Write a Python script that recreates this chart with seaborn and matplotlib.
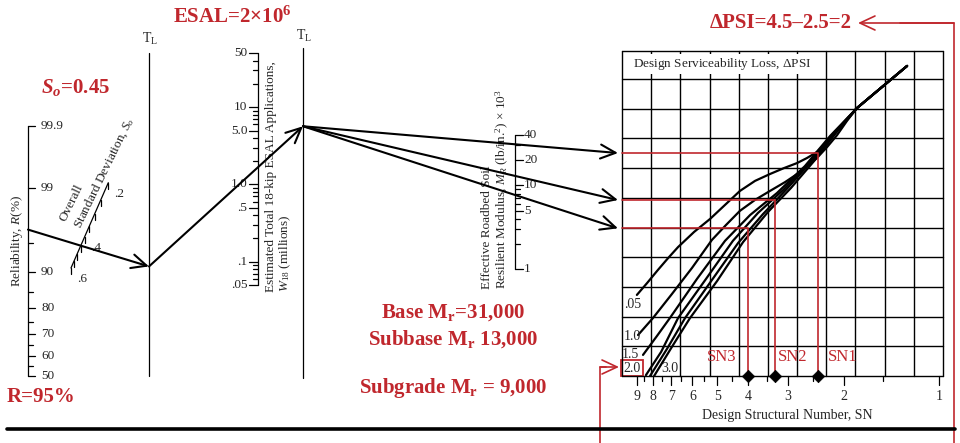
import math
from statistics import NormalDist

import matplotlib
matplotlib.use('Agg')
import matplotlib.pyplot as plt
import numpy as np
import pandas as pd
import seaborn as sns

rel_ticks = [50, 55, 60, 65, 70, 75, 80, 85, 90, 95, 99, 99.9]
rel_labels = [50, 60, 70, 80, 90, 99, 99.9]

so_ticks = [0.2, 0.25, 0.3, 0.35, 0.4, 0.45, 0.5, 0.55, 0.6]
so_label_vals = [0.2, 0.4, 0.6]
so_labels = ['.2', '.4', '.6']

esal_ticks = [0.05, 0.06, 0.07, 0.08, 0.09,
              0.1, 0.2, 0.3, 0.4, 0.5, 0.6, 0.7, 0.8, 0.9,
              1, 2, 3, 4, 5, 6, 7, 8, 9,
              10, 20, 30, 40, 50]
esal_label_vals = [50, 10, 5, 1, 0.5, 0.1, 0.05]
esal_labels = ['50', '10', '5.0', '1.0', '.5', '.1', '.05']

mr_ticks = [1, 2, 3, 4, 5, 6, 7, 8, 9, 10, 20, 30, 40]
mr_labels = [40, 20, 10, 5, 1]

sn_major = [9, 8, 7, 6, 5, 4, 3, 2, 1]
sn_minor = [8.5, 7.5, 6.5, 5.5, 4.5, 3.5, 2.5, 1.5]

# design serviceability loss curves, in chart grid units (column, row)
psi_curves = {
    '.05': ([0.51, 0.86, 1.23, 1.58, 1.92, 2.47, 3.02, 3.53, 4.04, 4.56, 5.07, 5.55,
             6.00, 6.34, 6.68, 6.92, 7.13, 7.61, 8.05, 8.91, 9.77],
            [2.73, 3.13, 3.57, 3.97, 4.34, 4.85, 5.29, 5.76, 6.23, 6.57, 6.80, 7.00,
             7.17, 7.34, 7.54, 7.78, 8.01, 8.55, 9.02, 9.73, 10.44]),
    '1.0': ([0.55, 1.06, 1.71, 2.40, 3.08, 3.56, 4.04, 4.56, 5.07, 5.59, 6.00, 6.34,
             6.68, 7.03, 7.37, 7.71, 8.05, 8.91, 9.77],
            [1.38, 1.95, 2.76, 3.64, 4.58, 5.08, 5.56, 5.93, 6.23, 6.53, 6.80, 7.07,
             7.34, 7.71, 8.11, 8.59, 9.02, 9.73, 10.44]),
    '1.5': ([0.72, 1.20, 1.64, 2.57, 3.53, 4.39, 5.31, 6.27, 7.13, 8.05, 8.91, 9.77],
            [0.71, 1.35, 1.95, 3.27, 4.55, 5.42, 6.16, 7.07, 8.08, 9.02, 9.73, 10.44]),
    '2.0': ([0.82, 1.34, 1.92, 2.88, 3.80, 4.66, 5.52, 6.41, 7.20, 8.05, 8.91, 9.77],
            [0.03, 0.81, 1.95, 3.27, 4.55, 5.49, 6.26, 7.17, 8.11, 9.02, 9.73, 10.44]),
    '2.5': ([0.96, 1.54, 2.16, 3.08, 3.98, 4.83, 5.65, 6.51, 7.27, 8.05, 8.91, 9.77],
            [0.00, 0.91, 1.95, 3.23, 4.48, 5.45, 6.30, 7.24, 8.15, 9.02, 9.73, 10.44]),
    '3.0': ([1.10, 1.71, 2.33, 3.26, 4.15, 5.00, 5.79, 6.61, 7.33, 8.05, 8.91, 9.77],
            [0.00, 0.98, 1.95, 3.20, 4.51, 5.52, 6.33, 7.27, 8.18, 9.02, 9.73, 10.44]),
}

# where the hand-drawn arrows cross each scale
r_read = 96.5
so_read = 0.45
esal_read = 1.65
mr_read = [31, 13, 7.7]        # base, subbase, subgrade
sn_read = [2.4, 3.3, 4.0]      # SN1, SN2, SN3
sn_names = ['SN1', 'SN2', 'SN3']

# ---------------- layout of the nomograph (canvas pixels) ----------------
RED = '#c0272d'
R_X, R_BOT, R_K = 28, 376, 80.8
SO_TOP, SO_BOT = (108.3, 182.7), (71.0, 268.0)
TL1_X, TL2_X = 149, 303
E_X, E_TOP, E_K = 257.5, 53.3, 77.2
M_X, M_TOP, M_K = 515, 135, 83.8
CH_L, CH_TOP, CH_HEAD, CH_BOT = 622, 51, 79, 376
COL_W, ROW_H, N_COL, N_ROW = 29.18, 29.7, 11, 10
SN_X1, SN_K = 939, 317


def rel_y(r):
    return R_BOT - R_K * NormalDist().inv_cdf(r / 100)


def so_pt(s):
    t = math.log(s / 0.2) / math.log(3)
    return (SO_TOP[0] + t * (SO_BOT[0] - SO_TOP[0]),
            SO_TOP[1] + t * (SO_BOT[1] - SO_TOP[1]))


def esal_y(e):
    return E_TOP + (math.log10(50) - math.log10(e)) * E_K


def mr_y(m):
    return M_TOP + (math.log10(40) - math.log10(m)) * M_K


def sn_x(s):
    return SN_X1 - SN_K * math.log10(s)


def col_x(c):
    return CH_L + c * COL_W


def row_y(r):
    return CH_BOT - r * ROW_H


def y_on_line(p, q, x):
    return p[1] + (x - p[0]) * (q[1] - p[1]) / (q[0] - p[0])


sns.set_style('white')
plt.rcParams['font.family'] = ['Liberation Serif', 'DejaVu Serif']
plt.rcParams['mathtext.fontset'] = 'custom'
plt.rcParams['mathtext.rm'] = 'Liberation Serif'
plt.rcParams['mathtext.it'] = 'Liberation Serif:italic'
plt.rcParams['mathtext.bf'] = 'Liberation Serif:bold'
plt.rcParams['mathtext.bfit'] = 'Liberation Serif:bold:italic'

fig = plt.figure(figsize=(9.6, 4.43), dpi=100)
ax = fig.add_axes([0, 0, 1, 1])

thin = dict(color='black', lw=0.9)
arrow_k = dict(arrowstyle='->,head_length=0.9,head_width=0.42', color='black',
               lw=1.5, shrinkA=0, shrinkB=0, mutation_scale=12)
arrow_r = dict(arrowstyle='->,head_length=0.9,head_width=0.42', color=RED,
               lw=1.2, shrinkA=0, shrinkB=0, mutation_scale=12)

# ---- design chart curves (seaborn) ----
rows = []
for psi, (cols, rws) in psi_curves.items():
    for c, r in zip(cols, rws):
        rows.append({'psi': psi, 'x': col_x(c), 'y': row_y(r)})
curves = pd.DataFrame(rows)
sns.lineplot(data=curves, x='x', y='y', hue='psi', units='psi', estimator=None, sort=False,
             palette={p: 'black' for p in psi_curves}, legend=False, lw=1.6, ax=ax)

# ---- reliability scale ----
ax.plot([R_X, R_X], [rel_y(99.9), rel_y(50)], **thin)
for r in rel_ticks:
    ln = 7 if r in rel_labels else 5
    ax.plot([R_X, R_X + ln], [rel_y(r)] * 2, **thin)
for r in rel_labels:
    ax.text(R_X + 13, rel_y(r), f'{r:g}', fontsize=9.5, va='center', ha='left')
ax.text(17, 241, r'Reliability, $R$(%)', rotation=90, fontsize=9.5, ha='center', va='center')

# ---- overall standard deviation scale ----
ax.plot([so_pt(0.2)[0], so_pt(0.6)[0]], [so_pt(0.2)[1], so_pt(0.6)[1]], **thin)
for s in so_ticks:
    px, py = so_pt(s)
    ax.plot([px, px], [py, py + 6], **thin)
for s, lab in zip(so_label_vals, so_labels):
    px, py = so_pt(s)
    ax.text(px + 11, py + 11, lab, fontsize=9.5, ha='center', va='center')
ax.text(66, 222, 'Overall', rotation=64, rotation_mode='anchor', fontsize=9.5,
        ha='left', va='baseline')
ax.text(80, 229, r'Standard Deviation, $S_o$', rotation=64, rotation_mode='anchor',
        fontsize=9.5, ha='left', va='baseline')

# ---- turning lines ----
ax.plot([TL1_X, TL1_X], [53, 376], **thin)
ax.plot([TL2_X, TL2_X], [48, 378], **thin)
ax.text(TL1_X + 1, 39, r'T$_\mathrm{L}$', fontsize=10, ha='center', va='center')
ax.text(TL2_X + 1, 36, r'T$_\mathrm{L}$', fontsize=10, ha='center', va='center')

# ---- ESAL scale ----
ax.plot([E_X, E_X], [esal_y(50), esal_y(0.05)], **thin)
for e in esal_ticks:
    ln = 9 if e in esal_label_vals else 5
    ax.plot([E_X - ln, E_X], [esal_y(e)] * 2, **thin)
for e, lab in zip(esal_label_vals, esal_labels):
    ax.text(E_X - 10, esal_y(e), lab, fontsize=9.5, ha='right', va='center')
ax.text(271, 292, 'Estimated Total 18-kip ESAL Applications,', rotation=90,
        fontsize=9.5, ha='center', va='bottom')
ax.text(285, 292, r'$W_{18}$ (millions)', rotation=90, fontsize=9.5, ha='center', va='bottom')

# ---- roadbed resilient modulus scale ----
ax.plot([M_X, M_X], [mr_y(40), mr_y(1)], **thin)
for m in mr_ticks:
    ln = 8 if m in mr_labels else 5
    ax.plot([M_X, M_X + ln], [mr_y(m)] * 2, **thin)
for m in mr_labels:
    ax.text(M_X + 9, mr_y(m), f'{m}', fontsize=9.5, ha='left', va='center')
ax.text(487, 289, 'Effective Roadbed Soil', rotation=90, fontsize=9.5, ha='center', va='bottom')
ax.text(502, 289, r'Resilient Modulus, $M_R$ (lb/in.$^2$) $\times$ 10$^3$', rotation=90,
        fontsize=9.5, ha='center', va='bottom')

# ---- design chart grid ----
for k in range(N_COL + 1):
    ax.plot([col_x(k)] * 2, [CH_TOP, CH_BOT], color='black', lw=1.0)
for k in range(N_ROW + 1):
    ax.plot([CH_L, col_x(N_COL)], [row_y(k)] * 2, color='black', lw=1.0)
ax.plot([CH_L, col_x(N_COL)], [CH_TOP] * 2, color='black', lw=1.0)
ax.text(633, 64, r'Design Serviceability Loss, $\Delta$PSI', fontsize=9.5, ha='left',
        va='center', bbox=dict(facecolor='white', edgecolor='none', pad=1.5))

for s in sn_major:
    ax.plot([sn_x(s)] * 2, [CH_BOT, CH_BOT + 9], **thin)
    ax.text(sn_x(s), 396, f'{s}', fontsize=10, ha='center', va='center')
for s in sn_minor:
    ax.plot([sn_x(s)] * 2, [CH_BOT, CH_BOT + 5], **thin)
ax.text(787, 415, 'Design Structural Number, SN', fontsize=10, ha='center', va='center')

for lab, xx, yy in [('.05', 633, 305), ('1.0', 632, 337), ('1.5', 630, 355),
                    ('2.0', 632, 369), ('3.0', 670, 369)]:
    ax.text(xx, yy, lab, fontsize=10, ha='center', va='center')
ax.add_patch(plt.Rectangle((621, 360), 22, 16, fill=False, edgecolor=RED, lw=1.3))

# ---- the worked example: arrows through the scales ----
p_r = (R_X, rel_y(r_read))
p_so = so_pt(so_read)
tl1 = (TL1_X, y_on_line(p_r, p_so, TL1_X))
p_e = (E_X, esal_y(esal_read))
tl2 = (TL2_X, y_on_line(tl1, p_e, TL2_X))
ax.annotate('', xy=tl1, xytext=p_r, arrowprops=arrow_k)
ax.annotate('', xy=tl2, xytext=tl1, arrowprops=arrow_k)

for m, s, name in zip(mr_read, sn_read, sn_names):
    tip_y = y_on_line(tl2, (M_X, mr_y(m)), 618)
    ax.annotate('', xy=(618, tip_y), xytext=tl2, arrowprops=arrow_k)
    ax.plot([CH_L, sn_x(s), sn_x(s)], [tip_y, tip_y, CH_BOT], color=RED, lw=1.2)

sns.scatterplot(x=[sn_x(s) for s in sn_read], y=[CH_BOT] * len(sn_read), marker='D',
                s=40, color='black', edgecolor='black', ax=ax, zorder=5)

ax.text(sn_x(sn_read[2]) - 12, 357, 'SN3', color=RED, fontsize=12, ha='right', va='center')
ax.text(sn_x(sn_read[1]) + 3, 357, 'SN2', color=RED, fontsize=12, ha='left', va='center')
ax.text(sn_x(sn_read[0]) + 9, 357, 'SN1', color=RED, fontsize=12, ha='left', va='center')

# red leader lines
ax.plot([600, 600, 606], [443, 367, 367], color=RED, lw=1.2)
ax.annotate('', xy=(619, 367), xytext=(600, 367), arrowprops=arrow_r)
ax.plot([954, 954, 900], [443, 23, 23], color=RED, lw=1.2)
ax.annotate('', xy=(858, 23), xytext=(954, 23), arrowprops=arrow_r)

ax.plot([7, 955], [429, 429], color='black', lw=2.6)

# ---- red annotations ----
big = dict(color=RED, fontsize=15, fontweight='bold', va='center')
ax.text(173, 17, r'ESAL=2×10$^{\mathbf{6}}$', ha='left', **big)
ax.text(41, 87, r'$\mathbfit{S_o}$=0.45', ha='left', **big)
ax.text(7, 397, 'R=95%', ha='left', **big)
ax.text(852, 23, 'ΔPSI=4.5–2.5=2', ha='right', **big)
ax.text(453, 313, r'Base M$_\mathbf{r}$=31,000', ha='center', **big)
ax.text(453, 339, r'Subbase M$_\mathbf{r}$ 13,000', ha='center', **big)
ax.text(453, 388, r'Subgrade M$_\mathbf{r}$ = 9,000', ha='center', **big)

ax.set_xlim(0, 960)
ax.set_ylim(443, 0)
ax.axis('off')

fig.savefig('out.png', dpi=100, facecolor='white')
